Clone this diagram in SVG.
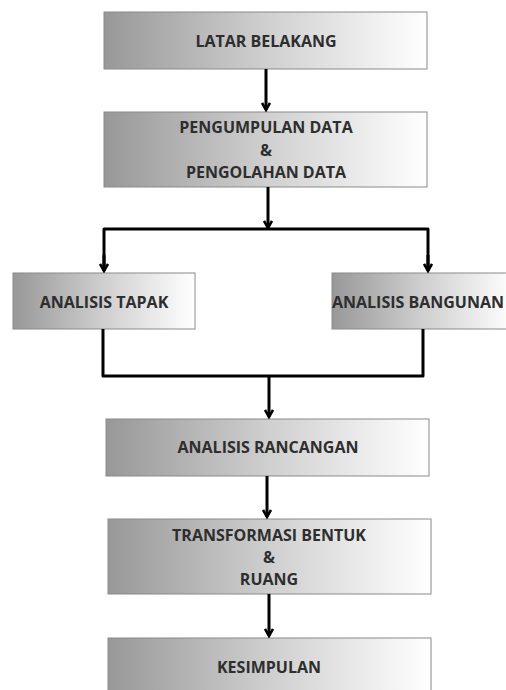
<svg xmlns="http://www.w3.org/2000/svg" width="506" height="690" viewBox="0 0 506 690">
<style>
.box{fill:url(#g);stroke:#8a8a8a;stroke-width:1}
.t{font-family:"Open Sans","Liberation Sans",sans-serif;font-weight:bold;font-size:16px;fill:#2e2e2e;text-anchor:middle}
.c{fill:none;stroke:#000;stroke-width:3;stroke-linejoin:round}
</style>
<defs>
<linearGradient id="g" x1="0" y1="0" x2="1" y2="0">
<stop offset="0" stop-color="#989898"/>
<stop offset="0.5" stop-color="#cfcfcf"/>
<stop offset="1" stop-color="#ffffff"/>
</linearGradient>
<marker id="a" markerWidth="10" markerHeight="10" viewBox="0 0 10 10" refX="8" refY="5" orient="auto" markerUnits="userSpaceOnUse">
<path d="M1,1 L8,5 L1,9" fill="none" stroke="#000" stroke-width="2.6"/>
</marker>
</defs>
<g id="n1"><rect class="box" x="104" y="12" width="323" height="57"/><text class="t" x="266" y="47">LATAR BELAKANG</text></g>
<g id="n2"><rect class="box" x="104" y="112" width="323" height="75"/><text class="t" x="266" y="133">PENGUMPULAN DATA</text><text class="t" x="266" y="156">&amp;</text><text class="t" x="266" y="178">PENGOLAHAN DATA</text></g>
<g id="n3"><rect class="box" x="13" y="273" width="182" height="56"/><text class="t" x="104" y="308">ANALISIS TAPAK</text></g>
<g id="n4"><rect class="box" x="332" y="273" width="182" height="56"/><text class="t" x="418" y="308" font-size="15.6px">ANALISIS BANGUNAN</text></g>
<g id="n5"><rect class="box" x="106" y="419" width="323" height="57"/><text class="t" x="268" y="453">ANALISIS RANCANGAN</text></g>
<g id="n6"><rect class="box" x="108" y="519" width="323" height="75"/><text class="t" x="269" y="541">TRANSFORMASI BENTUK</text><text class="t" x="269" y="563">&amp;</text><text class="t" x="269" y="585">RUANG</text></g>
<g id="n7"><rect class="box" x="108" y="638" width="323" height="60"/><text class="t" x="269" y="673">KESIMPULAN</text></g>
<g id="connectors">
<path class="c" d="M266,69 V110" marker-end="url(#a)"/>
<path class="c" d="M268,187 V228" marker-end="url(#a)"/>
<path class="c" d="M104,271 V229 H428 V271"/>
<path class="c" d="M104,255 V271" marker-end="url(#a)"/>
<path class="c" d="M428,255 V271" marker-end="url(#a)"/>
<path class="c" d="M103,329 V376 H423 V329"/>
<path class="c" d="M269,376 V417" marker-end="url(#a)"/>
<path class="c" d="M267,476 V517" marker-end="url(#a)"/>
<path class="c" d="M269,594 V636" marker-end="url(#a)"/>
</g>
</svg>
